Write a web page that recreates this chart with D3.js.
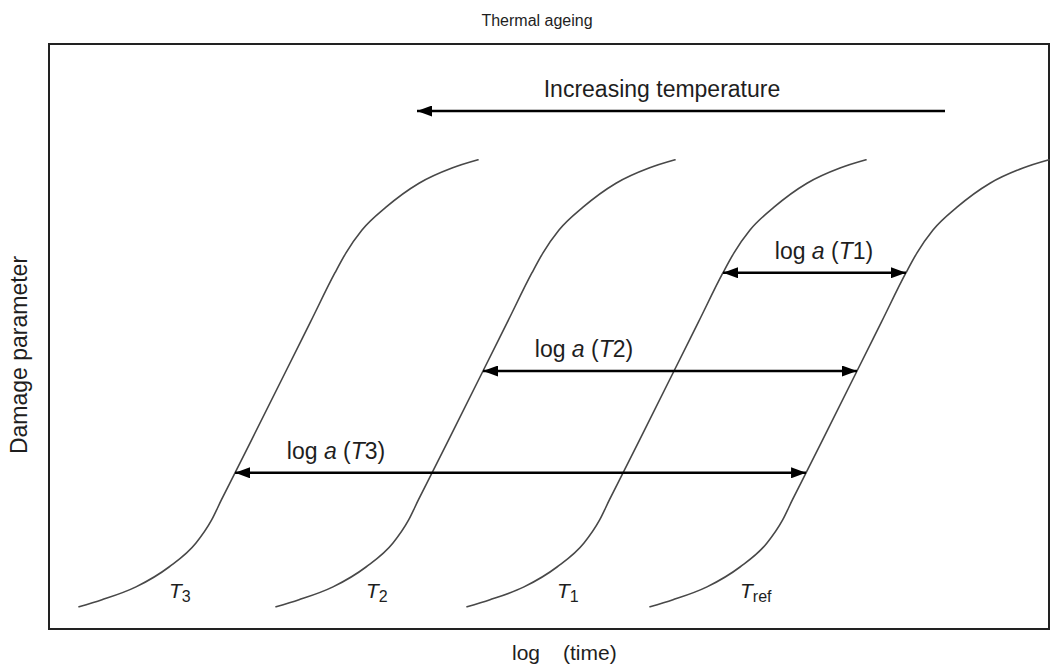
<!DOCTYPE html>
<html>
<head>
<meta charset="utf-8">
<script src="https://cdn.jsdelivr.net/npm/d3@7"></script>
<style>
  body { margin: 0; background: #fff; }
  svg { display: block; }
  text { font-family: "Liberation Sans", Arial, Helvetica, sans-serif; fill: #1e1e1e; }
</style>
</head>
<body>
<svg id="chart" width="1052" height="666"></svg>
<script>
// Master curve at the reference temperature: log(time) vs damage parameter (normalised)
const refLogTime = [6.01, 6.24, 6.58, 6.91, 7.18, 7.335, 7.435, 7.55, 7.735, 8.08, 8.325, 8.57, 8.68, 8.84, 9.08, 9.41, 9.74, 10.00];
const refDamage  = [0.038, 0.050, 0.072, 0.106, 0.147, 0.186, 0.221, 0.260, 0.323, 0.441, 0.525, 0.609, 0.643, 0.682, 0.721, 0.762, 0.788, 0.802];

// Ageing temperatures and their shift factors log a(T) (decades)
const tempBase   = ["T", "T", "T", "T"];
const tempSub    = ["3", "2", "1", "ref"];
const shiftLogA  = [-5.71, -3.74, -1.83, 0];

const shiftTemps  = ["1", "2", "3"];
const shiftIndex  = [2, 1, 0];
const shiftDamage = [0.609, 0.441, 0.267];

const svg = d3.select("#chart");
const frame = { left: 49, right: 1049, top: 44, bottom: 629 };

const x = d3.scaleLinear().domain([0, 10]).range([frame.left, frame.right]);
const y = d3.scaleLinear().domain([0, 1]).range([frame.bottom, frame.top]);

// time on the master curve for a given damage level
const timeAtDamage = d3.scaleLinear().domain(refDamage).range(refLogTime);

// arrow heads
const defs = svg.append("defs");
defs.append("marker")
  .attr("id", "head")
  .attr("viewBox", "0 0 15 11")
  .attr("refX", 15).attr("refY", 5.5)
  .attr("markerUnits", "userSpaceOnUse")
  .attr("markerWidth", 15).attr("markerHeight", 11)
  .attr("orient", "auto-start-reverse")
  .append("path")
  .attr("d", "M0,0 L15,5.5 L0,11 Z")
  .attr("fill", "#000");

// frame
svg.append("rect")
  .attr("x", frame.left).attr("y", frame.top)
  .attr("width", frame.right - frame.left)
  .attr("height", frame.bottom - frame.top)
  .attr("fill", "none")
  .attr("stroke", "#222")
  .attr("stroke-width", 2);

// title and axis labels
svg.append("text")
  .attr("x", 537).attr("y", 26)
  .attr("text-anchor", "middle")
  .attr("font-size", 16)
  .text("Thermal ageing");

svg.append("text")
  .attr("transform", "translate(27,355) rotate(-90)")
  .attr("text-anchor", "middle")
  .attr("font-size", 23)
  .text("Damage parameter");

const xl = svg.append("text")
  .attr("x", 512).attr("y", 660)
  .attr("font-size", 21);
xl.append("tspan").text("log");
xl.append("tspan").attr("x", 563).text("(time)");

// temperature direction arrow
const topArrowY = 111;
svg.append("line")
  .attr("x1", 945).attr("y1", topArrowY)
  .attr("x2", 417).attr("y2", topArrowY)
  .attr("stroke", "#000")
  .attr("stroke-width", 2.5)
  .attr("marker-end", "url(#head)");

svg.append("text")
  .attr("x", 662).attr("y", 97)
  .attr("text-anchor", "middle")
  .attr("font-size", 23)
  .text("Increasing temperature");

// ageing curves: master curve shifted along log(time)
const line = d3.line()
  .x(d => x(d[0]))
  .y(d => y(d[1]))
  .curve(d3.curveMonotoneX);

const curveG = svg.append("g");
shiftLogA.forEach((s, i) => {
  const pts = refLogTime.map((t, k) => [t + s, refDamage[k]]);
  curveG.append("path")
    .attr("d", line(pts))
    .attr("fill", "none")
    .attr("stroke", "#484848")
    .attr("stroke-width", 1.6)
    .attr("stroke-linecap", "round");

  const lbl = svg.append("text")
    .attr("x", x(6.91 + s))
    .attr("y", 598)
    .attr("font-size", 21);
  lbl.append("tspan").attr("font-style", "italic").text(tempBase[i]);
  lbl.append("tspan").attr("font-size", 16).attr("dy", 4).text(tempSub[i]);
});

// shift-factor arrows between each curve and the reference curve
shiftDamage.forEach((dmg, j) => {
  const s = shiftLogA[shiftIndex[j]];
  const tRef = timeAtDamage(dmg);
  const x1 = x(tRef + s), x2 = x(tRef), yy = y(dmg);

  svg.append("line")
    .attr("x1", x1).attr("y1", yy)
    .attr("x2", x2).attr("y2", yy)
    .attr("stroke", "#000")
    .attr("stroke-width", 2.5)
    .attr("marker-start", "url(#head)")
    .attr("marker-end", "url(#head)");

  const t = svg.append("text")
    .attr("x", x1 + 101)
    .attr("y", yy - 14)
    .attr("text-anchor", "middle")
    .attr("font-size", 23);
  t.append("tspan").text("log ");
  t.append("tspan").attr("font-style", "italic").text("a");
  t.append("tspan").text(" (");
  t.append("tspan").attr("font-style", "italic").text("T");
  t.append("tspan").text(shiftTemps[j] + ")");
});
</script>
</body>
</html>
